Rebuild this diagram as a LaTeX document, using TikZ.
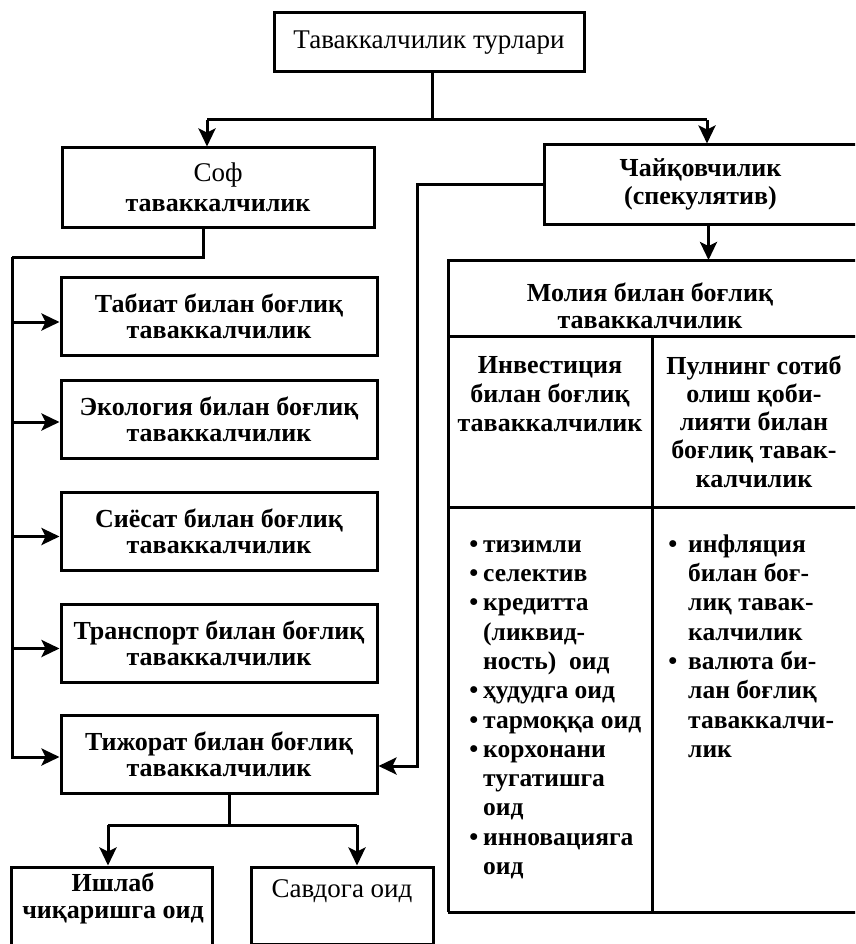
\documentclass[tikz,border=0pt]{standalone}
\usepackage{fontspec}
\setmainfont{Liberation Serif}
\usetikzlibrary{arrows.meta,calc}
\newcommand\myst{\rule{0pt}{19pt}}
\newcommand\mybul{\llap{\textbullet\hspace{5pt}}}
\newcommand\mybulb{\llap{\textbullet\hspace{11pt}}}
\begin{document}
\begin{tikzpicture}[x=1pt,y=-1pt,
  ln/.style={line width=3pt},
  arr/.style={line width=3pt,-{Stealth[length=18pt,width=17pt,inset=4pt]}},
  box/.style={draw,line width=3pt,inner sep=0pt,align=center,font=\fontsize{26}{26}\selectfont\bfseries},
  txt/.style={inner sep=0pt,align=center,font=\fontsize{26}{29}\selectfont\bfseries},
  lst/.style={inner sep=0pt,align=left,anchor=north west,font=\fontsize{25.5}{29.3}\selectfont\bfseries}]
\useasboundingbox (0,0) rectangle (855,944);
\clip (0,0) rectangle (855,944);
\fill[white] (0,0) rectangle (855,944);

% boxes
\node[box,font=\fontsize{27}{28}\selectfont,minimum width=310pt,minimum height=59pt] (top) at (429,42.5) {Таваккалчилик турлари};
\node[box,font=\fontsize{26}{30}\selectfont\bfseries,minimum width=312pt,minimum height=79pt] (sof) at (218,187.5) {{\mdseries\fontsize{27}{30}\selectfont Соф}\\таваккалчилик};
\node[box,font=\fontsize{26}{28}\selectfont\bfseries,minimum width=313pt,minimum height=79pt] (chai) at (700.5,184.5) {Чайқовчилик\\(спекулятив)};

\node[box,minimum width=316pt,minimum height=78pt] (tab) at (219,316) {Табиат билан боғлиқ\\таваккалчилик};
\node[box,minimum width=316pt,minimum height=78pt] (eco) at (219,419) {Экология билан боғлиқ\\таваккалчилик};
\node[box,minimum width=316pt,minimum height=78pt] (sie) at (219,531.5) {Сиёсат билан боғлиқ\\таваккалчилик};
\node[box,minimum width=316pt,minimum height=78pt] (tra) at (219,643.5) {Транспорт билан боғлиқ\\таваккалчилик};
\node[box,minimum width=316pt,minimum height=78pt] (tij) at (219,754) {Тижорат билан боғлиқ\\таваккалчилик};

\node[box,minimum width=201pt,minimum height=83pt] (ishlab) at (111.5,908.5) {};
\node[txt,font=\fontsize{26}{27}\selectfont\bfseries] (ishlabt) at (113,898) {Ишлаб\\чиқаришга оид};
\node[box,minimum width=182pt,minimum height=77pt] (savdo) at (342,905.5) {};
\node[txt,font=\fontsize{27}{28}\selectfont] (savdot) at (342,891) {Савдога оид};

% table
\coordinate (tnw) at (448,260);
\coordinate (tsw) at (448,912);
\draw[ln] (tsw) -- (tnw) -- (870,260);
\draw[ln] (tsw) -- (870,912);
\draw[ln] (448,336) -- (870,336);
\draw[ln] (448,507) -- (870,507);
\draw[ln] (652,336) -- (652,912);

\node[txt,font=\fontsize{26}{27}\selectfont\bfseries] (molia) at (650,305.5) {Молия билан боғлиқ\\таваккалчилик};
\node[txt] (inv) at (550,394) {Инвестиция\\билан боғлиқ\\таваккалчилик};
\node[txt,font=\fontsize{26}{28.3}\selectfont\bfseries] (pul) at (754,421.5) {Пулнинг сотиб\\олиш қоби-\\лияти билан\\боғлиқ тавак-\\калчилик};

\node[lst] (list1) at (483,533) {\myst\mybul тизимли\\\mybul селектив\\\mybul кредитта\\(ликвид-\\ность)\ \ оид\\\mybul ҳудудга оид\\\mybul тармоққа оид\\\mybul корхонани\\тугатишга\\оид\\\mybul инновацияга\\оид};
\node[lst] (list2) at (688,533) {\myst\mybulb инфляция\\билан боғ-\\лиқ тавак-\\калчилик\\\mybulb валюта би-\\лан боғлиқ\\таваккалчи-\\лик};

% connectors
\coordinate (hl) at (207,120);
\coordinate (hr) at (707,120);
\draw[ln] ([xshift=3pt]top.south) -- ([xshift=3pt]top.south |- hl);
\draw[ln] (hl) -- (hr);
\draw[arr] (hl) -- (hl |- sof.north);
\draw[arr] (hr) -- (hr |- chai.north);

\coordinate (sp) at (12,257);
\draw[ln] ([xshift=-15pt]sof.south) |- (sp);
\coordinate (atab) at ([yshift=-6pt]tab.west);
\coordinate (aeco) at ([yshift=-3pt]eco.west);
\coordinate (asie) at ([yshift=-5pt]sie.west);
\coordinate (atra) at ([yshift=-5pt]tra.west);
\coordinate (atij) at ([yshift=-3pt]tij.west);
\draw[arr] (sp) |- (atij);
\draw[arr] (sp |- atab) -- (atab);
\draw[arr] (sp |- aeco) -- (aeco);
\draw[arr] (sp |- asie) -- (asie);
\draw[arr] (sp |- atra) -- (atra);

\coordinate (bend) at (417,184.5);
\coordinate (etij) at ([yshift=-12pt]tij.east);
\draw[arr] (chai.west) -- (bend) |- (etij);

\coordinate (cs) at ([xshift=8pt]chai.south);
\draw[arr] (cs) -- (cs |- tnw);

\coordinate (bl) at (108,825);
\coordinate (br) at (357,825);
\draw[ln] ([xshift=10pt]tij.south) -- ([xshift=10pt]tij.south |- bl);
\draw[ln] (bl) -- (br);
\draw[arr] (bl) -- (bl |- ishlab.north);
\draw[arr] (br) -- (br |- savdo.north);
\end{tikzpicture}
\end{document}
